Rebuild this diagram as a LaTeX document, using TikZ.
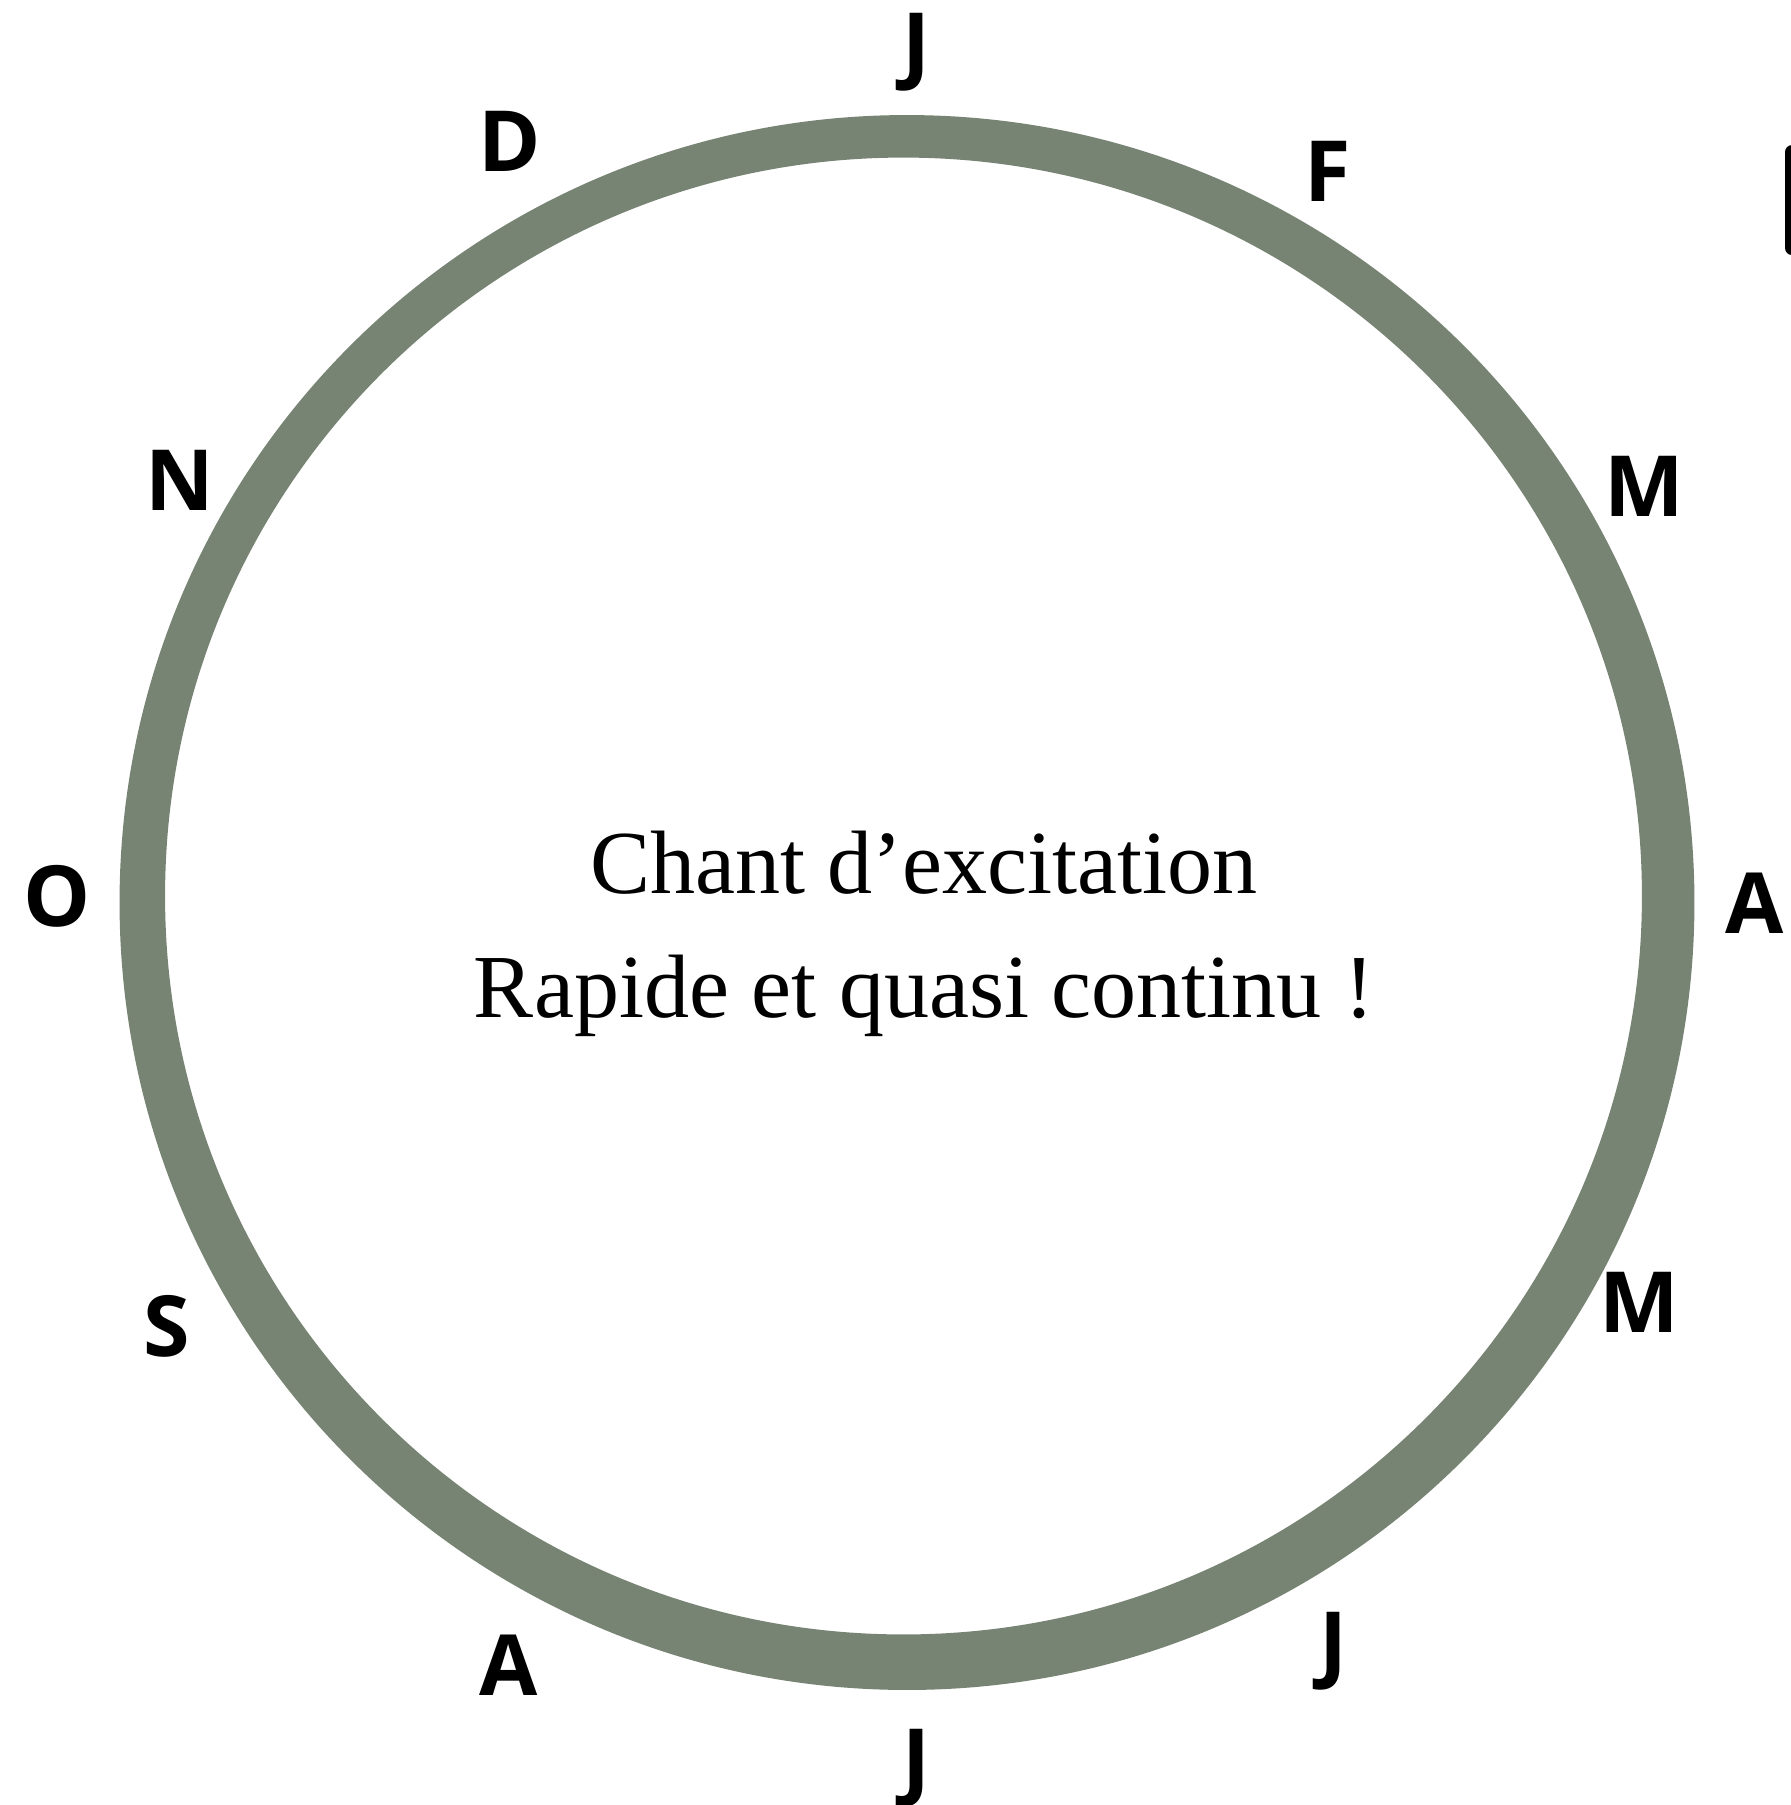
\documentclass[tikz,border=0pt]{standalone}
\usepackage{fontspec}
\setmainfont{Liberation Serif}
\newfontfamily\moisfont{Open Sans}
\usepackage{xcolor}
\definecolor{sauge}{RGB}{119,132,115}

\begin{document}
\begin{tikzpicture}[
x=0.01cm,y=-0.01cm,
mois/.style={font=\moisfont\bfseries\fontsize{24}{24}\selectfont,anchor=base,inner sep=0pt},
titre/.style={font=\fontsize{25.6}{25.6}\selectfont,anchor=base,inner sep=0pt}
]
\useasboundingbox (0,0) rectangle (1791,1805);
% anneau
\fill[sauge,even odd rule] (907,902.5) circle (7.87cm) (903.5,896) circle (7.38cm);
% bord coupe en haut a droite
\fill[rounded corners=0.7mm] (1785,145) rectangle (1840,255);
% mois
\node[mois] (jan) at (916,73) {J};
\node[mois] (fev) at (1328,201) {F};
\node[mois] (mar) at (1644,516) {M};
\node[mois] (avr) at (1755,933) {A};
\node[mois] (mai) at (1639,1332) {M};
\node[mois] (juin) at (1333,1672) {J};
\node[mois] (juil) at (916,1789) {J};
\node[mois] (aout) at (509,1695) {A};
\node[mois] (sept) at (167,1356) {S};
\node[mois] (oct) at (57,926) {O};
\node[mois] (nov) at (180,510) {N};
\node[mois] (dec) at (510,171) {D};
% texte central
\node[titre] (chant) at (924,893) {Chant d’excitation};
\node[titre] (rapide) at (924,1017) {Rapide et quasi continu !};
\end{tikzpicture}
\end{document}
